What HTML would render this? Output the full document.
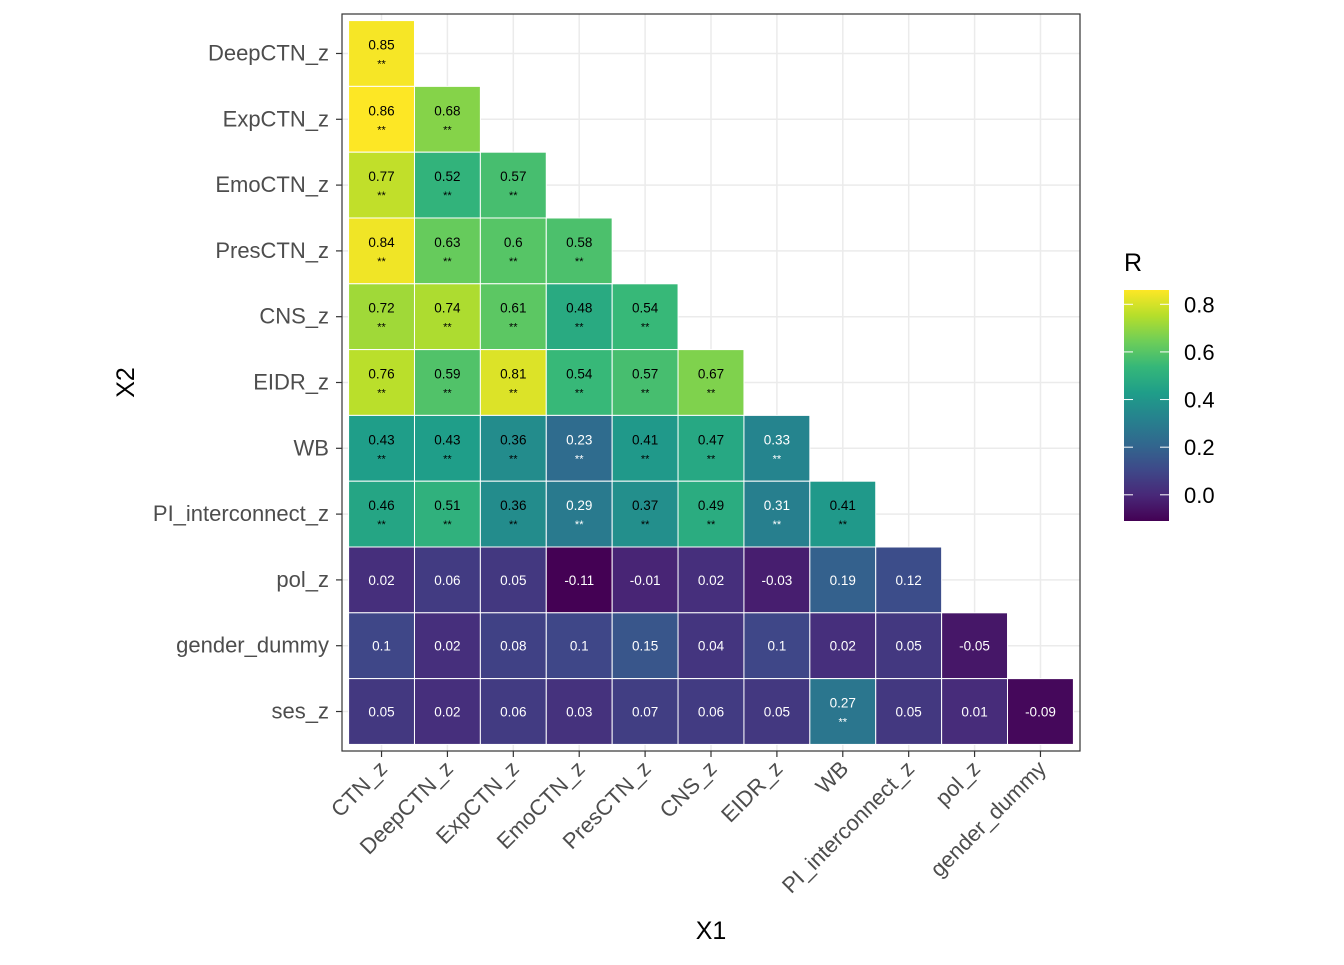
<!DOCTYPE html>
<html><head><meta charset="utf-8"><style>
body{margin:0;background:#fff;font-family:"Liberation Sans",Arial,sans-serif}
</style></head><body>
<svg id="chart" width="1344" height="960" xmlns="http://www.w3.org/2000/svg" font-family="Liberation Sans, Arial, sans-serif"></svg>
<script>
const xCats=["CTN_z","DeepCTN_z","ExpCTN_z","EmoCTN_z","PresCTN_z","CNS_z","EIDR_z","WB","PI_interconnect_z","pol_z","gender_dummy"];
const yCats=["DeepCTN_z","ExpCTN_z","EmoCTN_z","PresCTN_z","CNS_z","EIDR_z","WB","PI_interconnect_z","pol_z","gender_dummy","ses_z"];
const rowValues=[
[0.85],
[0.86,0.68],
[0.77,0.52,0.57],
[0.84,0.63,0.6,0.58],
[0.72,0.74,0.61,0.48,0.54],
[0.76,0.59,0.81,0.54,0.57,0.67],
[0.43,0.43,0.36,0.23,0.41,0.47,0.33],
[0.46,0.51,0.36,0.29,0.37,0.49,0.31,0.41],
[0.02,0.06,0.05,-0.11,-0.01,0.02,-0.03,0.19,0.12],
[0.1,0.02,0.08,0.1,0.15,0.04,0.1,0.02,0.05,-0.05],
[0.05,0.02,0.06,0.03,0.07,0.06,0.05,0.27,0.05,0.01,-0.09]];
const rowSig=[
[1],[1,1],[1,1,1],[1,1,1,1],[1,1,1,1,1],[1,1,1,1,1,1],[1,1,1,1,1,1,1],[1,1,1,1,1,1,1,1],
[0,0,0,0,0,0,0,0,0],[0,0,0,0,0,0,0,0,0,0],[0,0,0,0,0,0,0,1,0,0,0]];
const legendTicks=[0,0.2,0.4,0.6,0.8];

const svg=document.getElementById('chart');
const NS="http://www.w3.org/2000/svg";
function mk(t,a,txt){const e=document.createElementNS(NS,t);for(const k in a)e.setAttribute(k,a[k]);if(txt!==undefined)e.textContent=txt;svg.appendChild(e);return e;}
const PL=342,PR=1080,PT=14,PB=751;
const step=(PR-PL)/(xCats.length+0.2);
const xPos=i=>PL+step*(0.6+i);
const yPos=j=>PT+step*(0.6+j)*(PB-PT)/(PR-PL);
const cellH=(PB-PT)/(yCats.length+0.2);
const allV=rowValues.flat();
const vmin=Math.min(...allV),vmax=Math.max(...allV);
const vir=["#440154","#482878","#3e4989","#31688e","#26828e","#1f9e89","#35b779","#6ece58","#b5de2b","#fde725"];
function hex(h){return [1,3,5].map(i=>parseInt(h.substr(i,2),16));}
function color(v){let t=(v-vmin)/(vmax-vmin);t=Math.max(0,Math.min(1,t));const p=t*(vir.length-1);const i=Math.min(Math.floor(p),vir.length-2);const f=p-i;const a=hex(vir[i]),b=hex(vir[i+1]);return `rgb(${a.map((c,k)=>Math.round(c+(b[k]-c)*f)).join(',')})`;}

let e=mk('rect',{x:PL,y:PT,width:PR-PL,height:PB-PT,fill:'#fff'});

xCats.forEach((c,i)=>{e=mk('line',{x1:xPos(i),x2:xPos(i),y1:PT,y2:PB,stroke:'#ebebeb','stroke-width':1.5});});
yCats.forEach((c,j)=>{e=mk('line',{x1:PL,x2:PR,y1:yPos(j),y2:yPos(j),stroke:'#ebebeb','stroke-width':1.5});});
rowValues.forEach((row,j)=>{row.forEach((v,i)=>{
 const cx=xPos(i),cy=yPos(j);
 e=mk('rect',{x:cx-step/2,y:cy-cellH/2,width:step,height:cellH,fill:color(v),stroke:'#fff','stroke-width':1});
 
 const tc=v<0.35?'#fff':'#000';const s=rowSig[j][i];
 e=mk('text',{x:cx,y:s?cy-4:cy+5,'text-anchor':'middle','font-size':13.5,fill:tc},String(v));
 
 if(s){e=mk('text',{x:cx,y:cy+14,'text-anchor':'middle','font-size':11,fill:tc},'**');}
});});
e=mk('rect',{x:PL,y:PT,width:PR-PL,height:PB-PT,fill:'none',stroke:'#333','stroke-width':1.2});

yCats.forEach((c,j)=>{const y=yPos(j);
 e=mk('line',{x1:PL-6,x2:PL,y1:y,y2:y,stroke:'#333','stroke-width':1.2});
 e=mk('text',{x:PL-13,y:y+7,'text-anchor':'end','font-size':22,fill:'#4d4d4d'},c);});
xCats.forEach((c,i)=>{const x=xPos(i);
 e=mk('line',{x1:x,x2:x,y1:PB,y2:PB+6,stroke:'#333','stroke-width':1.2});
 e=mk('text',{x:x+7,y:PB+19,'text-anchor':'end','font-size':22,fill:'#4d4d4d',transform:`rotate(-45 ${x+7} ${PB+19})`},c);});
e=mk('text',{x:(PL+PR)/2,y:939,'text-anchor':'middle','font-size':25,fill:'#000'},'X1');
e=mk('text',{x:134,y:(PT+PB)/2,'text-anchor':'middle','font-size':25,fill:'#000',transform:`rotate(-90 134 ${(PT+PB)/2})`},'X2');
const LX=1124,LW=45,LT=290,LB=521;
const ly=v=>LB-(v-vmin)/(vmax-vmin)*(LB-LT);
const defs=document.createElementNS(NS,'defs');svg.appendChild(defs);
const g=document.createElementNS(NS,'linearGradient');g.setAttribute('id','vg');g.setAttribute('x1','0');g.setAttribute('y1','1');g.setAttribute('x2','0');g.setAttribute('y2','0');defs.appendChild(g);
vir.forEach((c,k)=>{const s=document.createElementNS(NS,'stop');s.setAttribute('offset',k/(vir.length-1));s.setAttribute('stop-color',c);g.appendChild(s);});
e=mk('rect',{x:LX,y:LT,width:LW,height:LB-LT,fill:'url(#vg)'});
e=mk('text',{x:LX,y:271,'font-size':25,fill:'#000'},'R');
legendTicks.forEach(t=>{const y=ly(t);
 e=mk('line',{x1:LX,x2:LX+9,y1:y,y2:y,stroke:'#fff','stroke-width':1});
 e=mk('line',{x1:LX+LW-9,x2:LX+LW,y1:y,y2:y,stroke:'#fff','stroke-width':1});
 e=mk('text',{x:1184,y:y+8,'font-size':22,fill:'#000'},t.toFixed(1));});
</script>
</body></html>
